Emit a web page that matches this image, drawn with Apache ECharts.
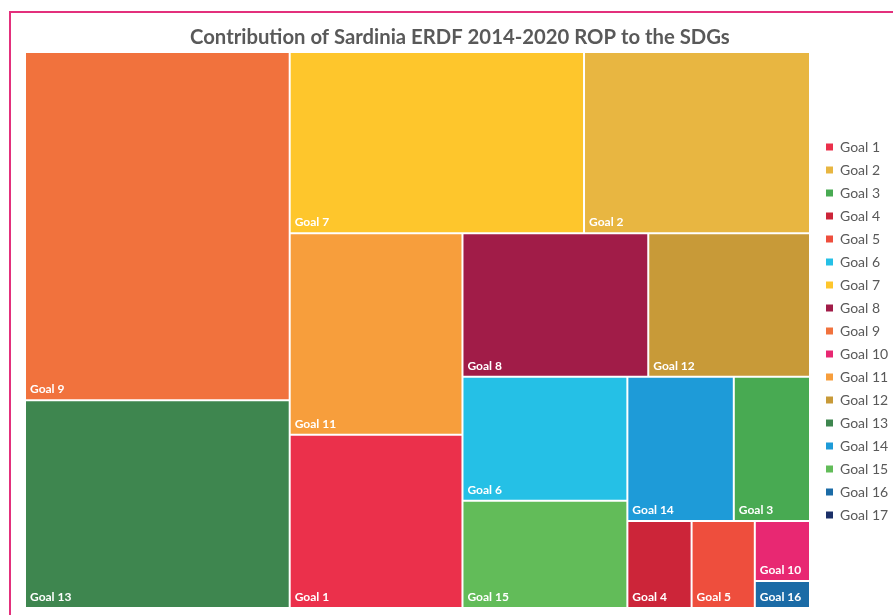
<!DOCTYPE html>
<html>
<head>
<meta charset="utf-8">
<script src="https://cdn.jsdelivr.net/npm/echarts@6/dist/echarts.min.js"></script>
<style>
  html, body { margin: 0; padding: 0; background: #ffffff; }
  #chart { width: 893px; height: 615px; }
</style>
</head>
<body>
<div id="chart"></div>
<script>
// Sustainable Development Goals and the share of the programme attributed to each
const goals = ['Goal 1', 'Goal 2', 'Goal 3', 'Goal 4', 'Goal 5', 'Goal 6', 'Goal 7', 'Goal 8', 'Goal 9',
               'Goal 10', 'Goal 11', 'Goal 12', 'Goal 13', 'Goal 14', 'Goal 15', 'Goal 16', 'Goal 17'];
const shares = [6.86, 9.39, 2.52, 1.28, 1.26, 4.69, 12.23, 6.10, 21.12,
                0.76, 7.97, 5.31, 12.60, 3.52, 4.05, 0.34, 0];
const goalColors = ['#EB304B', '#E8B641', '#48AA52', '#CC2539', '#EE4E3D', '#25C0E6', '#FEC62C', '#A11C48', '#F1723D',
                    '#E82872', '#F79E3C', '#C89A38', '#3E864F', '#1E9BD8', '#62BC59', '#1B6BA6', '#1B3068'];
const chartTitle = 'Contribution of Sardinia ERDF 2014-2020 ROP to the SDGs';

const chart = echarts.init(document.getElementById('chart'), null, { renderer: 'canvas' });

const treeData = goals.map((name, i) => ({
  name: name,
  value: shares[i],
  itemStyle: { color: goalColors[i] }
}));

// Empty series only so the legend lists every goal with its colour
const legendSeries = goals.map((name, i) => ({
  type: 'scatter',
  name: name,
  data: [],
  itemStyle: { color: goalColors[i], opacity: 1 }
}));

chart.setOption({
  animation: false,
  backgroundColor: '#ffffff',
  title: {
    text: chartTitle,
    left: 185,
    top: 22,
    textStyle: { fontFamily: 'Lato', fontWeight: 'bold', fontSize: 20.3, color: '#595959' }
  },
  legend: {
    orient: 'vertical',
    left: 821,
    top: 134,
    icon: 'rect',
    itemWidth: 7,
    itemHeight: 7,
    itemGap: 7,
    selectedMode: false,
    data: goals,
    itemStyle: { opacity: 1 },
    textStyle: { fontFamily: 'Lato', fontSize: 14, color: '#595959', lineHeight: 16, padding: [0, 0, 0, 2] }
  },
  grid: { left: 0, top: 0, width: 1, height: 1, show: false },
  xAxis: { show: false },
  yAxis: { show: false },
  graphic: [{
    type: 'rect',
    silent: true,
    shape: { x: 10, y: 12, width: 900, height: 620 },
    style: { fill: 'none', stroke: '#E3307C', lineWidth: 2 }
  }],
  series: [{
    type: 'treemap',
    left: 26,
    top: 53,
    width: 783,
    height: 554,
    squareRatio: 1,
    roam: false,
    nodeClick: false,
    breadcrumb: { show: false },
    itemStyle: { borderWidth: 0, gapWidth: 2, borderColor: '#ffffff' },
    label: {
      show: true,
      position: 'insideBottomLeft',
      distance: 4,
      padding: 0,
      formatter: '{b}',
      fontFamily: 'Lato',
      fontWeight: 'bold',
      fontSize: 12,
      color: '#ffffff'
    },
    emphasis: { disabled: true },
    data: treeData
  }].concat(legendSeries)
});
</script>
</body>
</html>
